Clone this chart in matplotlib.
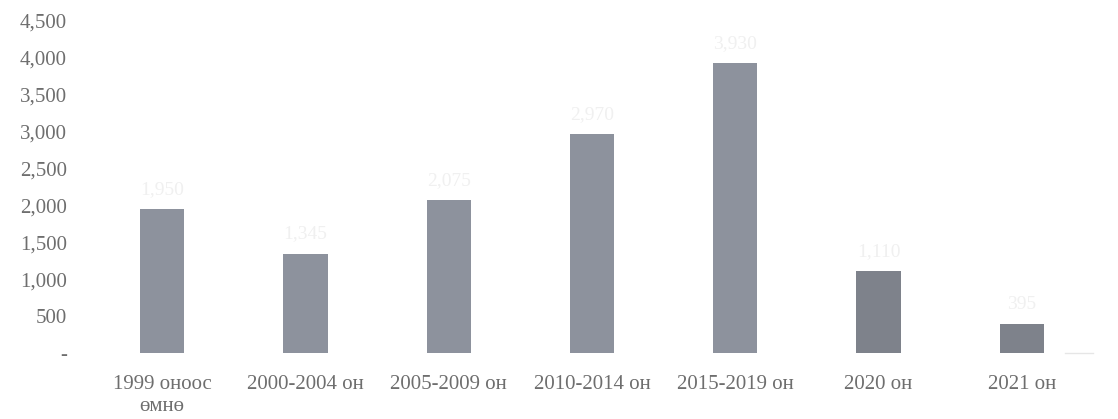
import matplotlib
matplotlib.use("Agg")
import matplotlib.pyplot as plt
from matplotlib.ticker import FuncFormatter

categories = ["1999 оноос\nөмнө", "2000-2004 он", "2005-2009 он", "2010-2014 он",
              "2015-2019 он", "2020 он", "2021 он"]
values = [1950, 1345, 2075, 2970, 3930, 1110, 395]
bar_colors = ["#8d929d", "#8d929d", "#8d929d", "#8d929d", "#8d929d", "#7e828b", "#7e828b"]
y_ticks = [0, 500, 1000, 1500, 2000, 2500, 3000, 3500, 4000, 4500]

plt.rcParams["font.family"] = ["Liberation Serif", "DejaVu Serif"]

fig = plt.figure(figsize=(11.18, 4.19), dpi=100)
ax = fig.add_axes([0.081, 0.158, 0.897, 0.792])

x = range(len(categories))
ax.bar(x, values, width=0.31, color=bar_colors, zorder=2)

# faint value labels above the bars
for xi, v in zip(x, values):
    ax.text(xi, v + 150, f"{v:,}", ha="center", va="bottom",
            fontsize=14, color="#f0f0f0")

ax.set_xlim(-0.5, len(categories) - 0.5)
ax.set_ylim(0, 4500)
ax.set_yticks(y_ticks)
ax.yaxis.set_major_formatter(FuncFormatter(lambda v, p: "-" if v == 0 else f"{int(v):,}"))
ax.set_xticks(list(x))
ax.set_xticklabels(categories, linespacing=1.2)

ax.tick_params(axis="both", length=0, labelsize=15, colors="#6e6e6e")
ax.tick_params(axis="y", pad=17)
ax.tick_params(axis="x", pad=16)
for s in ax.spines.values():
    s.set_visible(False)

# short remnant of the baseline at the right end
ax.plot([6.3, 6.5], [0, 0], color="#e6e6e6", lw=1, clip_on=False)

fig.savefig("out.png", dpi=100)
